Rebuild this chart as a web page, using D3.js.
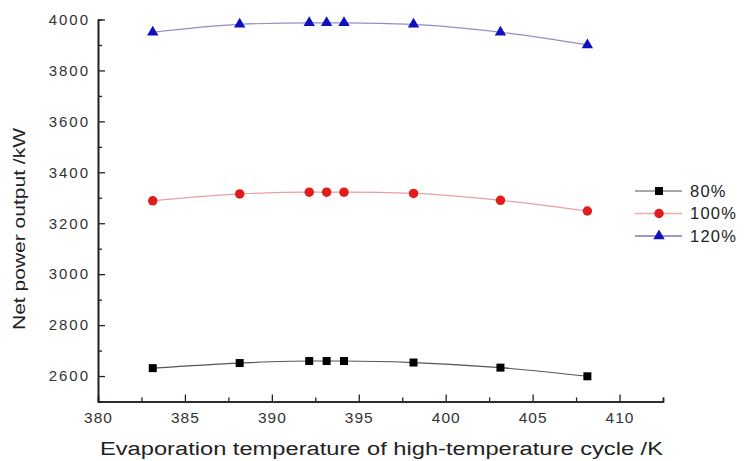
<!DOCTYPE html>
<html>
<head>
<meta charset="utf-8">
<script src="https://cdn.jsdelivr.net/npm/d3@7"></script>
<style>
  body { margin: 0; background: #fff; }
  text { font-family: "Liberation Sans", Arial, sans-serif; fill: #222; }
</style>
</head>
<body>
<div id="chart"></div>
<script>
// data
let temps = [383.15, 388.15, 392.15, 393.15, 394.15, 398.15, 403.15, 408.15];
let load80 = [2631, 2651, 2659, 2659, 2659, 2653, 2633, 2599];
let load100 = [3288, 3315, 3322, 3322, 3322, 3317, 3290, 3248];
let load120 = [3950, 3981, 3987, 3987, 3987, 3981, 3950, 3900];
let seriesNames = ["80%", "100%", "120%"];
let xTicks = [380, 385, 390, 395, 400, 405, 410];
let yTicks = [2600, 2800, 3000, 3200, 3400, 3600, 3800, 4000];

let svgWidth = 746;
let svgHeight = 461;
let margin = { top: 19.5, left: 98, right: 83, bottom: 59.5 };
let width = svgWidth - margin.left - margin.right;
let height = svgHeight - margin.top - margin.bottom;

let svg = d3.select("#chart").append("svg")
  .attr("width", svgWidth)
  .attr("height", svgHeight);

let g = svg.append("g")
  .attr("transform", `translate(${margin.left}, ${margin.top})`);

let x = d3.scaleLinear().domain([380, 412.5]).range([0, width]);
let y = d3.scaleLinear().domain([2500, 4000]).range([height, 0]);

// axes with inward ticks
let xAxis = g.append("g")
  .attr("transform", `translate(0, ${height})`)
  .call(d3.axisBottom(x).tickValues(xTicks).tickFormat(d3.format("d")).tickSizeInner(-7).tickSizeOuter(0).tickPadding(10));
let xMinor = g.append("g")
  .attr("transform", `translate(0, ${height})`)
  .call(d3.axisBottom(x).tickValues([382.5, 387.5, 392.5, 397.5, 402.5, 407.5, 412.5]).tickSize(-4).tickFormat(""));

let yAxis = g.append("g")
  .call(d3.axisLeft(y).tickValues(yTicks).tickFormat(d3.format("d")).tickSizeInner(-7).tickSizeOuter(0).tickPadding(8));
let yMinor = g.append("g")
  .call(d3.axisLeft(y).tickValues([2700, 2900, 3100, 3300, 3500, 3700, 3900]).tickSize(-4).tickFormat(""));

[xAxis, xMinor, yAxis, yMinor].forEach(a => {
  a.select(".domain").attr("stroke", "#222").attr("stroke-width", 1.6);
  a.selectAll(".tick line").attr("stroke", "#222").attr("stroke-width", 1.3);
});
xAxis.selectAll(".tick text")
  .attr("font-size", 15.5)
  .attr("letter-spacing", 1)
  .style("fill", "#333");
yAxis.selectAll(".tick text")
  .attr("font-size", 15)
  .attr("letter-spacing", 2)
  .style("fill", "#333");

// axis titles
svg.append("text")
  .attr("x", 100)
  .attr("y", 455)
  .attr("font-size", 18)
  .attr("textLength", 563)
  .attr("lengthAdjust", "spacingAndGlyphs")
  .text("Evaporation temperature of high-temperature cycle /K");

svg.append("text")
  .attr("transform", "translate(25, 330) rotate(-90)")
  .attr("font-size", 16)
  .attr("textLength", 202)
  .attr("lengthAdjust", "spacingAndGlyphs")
  .text("Net power output /kW");

// series
let series = [
  { name: seriesNames[0], values: load80, line: "#555", legLine: "#8a8a8a", fill: "#000", shape: d3.symbolSquare, size: 64 },
  { name: seriesNames[1], values: load100, line: "#e8a0a0", legLine: "#f0a8a8", fill: "#e01c1c", shape: d3.symbolCircle, size: 70 },
  { name: seriesNames[2], values: load120, line: "#8f8fc8", legLine: "#7a7ab8", fill: "#1010c0", shape: d3.symbolTriangle, size: 56 }
];

let line = d3.line()
  .x((d, i) => x(temps[i]))
  .y(d => y(d))
  .curve(d3.curveMonotoneX);

series.forEach(s => {
  g.append("path")
    .datum(s.values)
    .attr("fill", "none")
    .attr("stroke", s.line)
    .attr("stroke-width", 1.2)
    .attr("d", line);

  g.selectAll(null)
    .data(s.values)
    .enter()
    .append("path")
    .attr("d", d3.symbol().type(s.shape).size(s.size))
    .attr("transform", (d, i) => `translate(${x(temps[i])}, ${y(d)})`)
    .attr("fill", s.fill);
});

// legend
let legend = svg.append("g").attr("transform", "translate(635, 191)");
series.forEach((s, i) => {
  let row = legend.append("g").attr("transform", `translate(0, ${i * 22.5})`);
  row.append("line")
    .attr("x1", 0).attr("x2", 47)
    .attr("stroke", s.legLine)
    .attr("stroke-width", 1.3);
  row.append("path")
    .attr("d", d3.symbol().type(s.shape).size(s.size))
    .attr("transform", "translate(24, 0)")
    .attr("fill", s.fill);
  row.append("text")
    .attr("x", 55)
    .attr("dy", "0.36em")
    .attr("font-size", 16.5)
    .attr("letter-spacing", 1.2)
    .text(s.name);
});
</script>
</body>
</html>
